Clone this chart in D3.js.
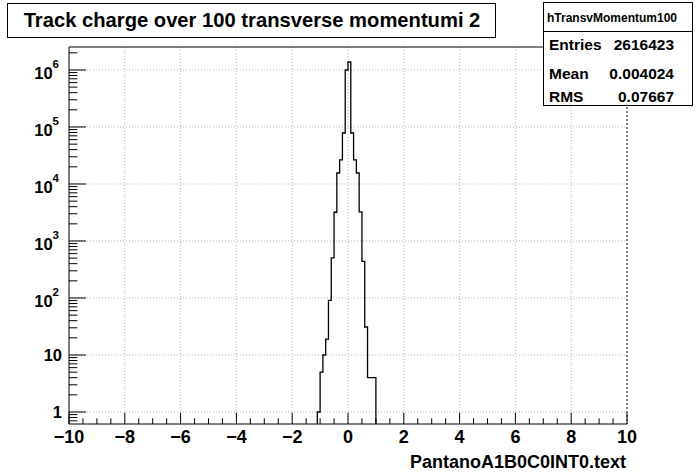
<!DOCTYPE html>
<html><head><meta charset="utf-8">
<script src="https://cdn.jsdelivr.net/npm/d3@7"></script>
<style>
html,body{margin:0;padding:0;background:#fff;}
svg{display:block;font-family:"Liberation Sans",Arial,Helvetica,sans-serif;font-weight:bold;}
</style></head>
<body><svg id="c" width="696" height="472"></svg>
<script>
// ---- data ----
const titleText = "Track charge over 100 transverse momentumi 2";
const xTitle = "PantanoA1B0C0INT0.text";
const statsName = "hTransvMomentum100";
const statsLabels = ["Entries", "Mean", "RMS"];
const statsValues = ["2616423", "0.004024", "0.07667"];
const binWidth = 0.1;
const binLo = [-1.1,-1.0,-0.9,-0.8,-0.7,-0.6,-0.5,-0.4,-0.3,-0.2,-0.1,0.0,0.1,0.2,0.3,0.4,0.5,0.6,0.7,0.8,0.9];
const counts = [1,5,10,19,91,504,3190,15600,26400,78500,1000000,1380000,78500,26400,15600,3230,440,31,4,4,4];
const xDomain = [-10, 10];
const yDomain = [0.616, 2.53e6];
const xMajor = [-10,-8,-6,-4,-2,0,2,4,6,8,10];
const xTickLabels = ["\u221210","\u22128","\u22126","\u22124","\u22122","0","2","4","6","8","10"];
const yMajor = [1,10,100,1000,10000,100000,1000000];
const yTickBase = ["1","10","10","10","10","10","10"];
const yTickExp = ["","","2","3","4","5","6"];

// ---- layout ----
const L = 69, R = 627, T = 47, B = 424;
const svg = d3.select("#c");
const x = d3.scaleLinear().domain(xDomain).range([L, R]);
const y = d3.scaleLog().domain(yDomain).range([B, T]);

// grid
const g = svg.append("g");
xMajor.filter(v => v > xDomain[0] && v < xDomain[1]).forEach(v => {
  g.append("line").attr("x1", x(v)).attr("x2", x(v)).attr("y1", T).attr("y2", B)
   .attr("stroke", "#b4b4b4").attr("stroke-width", 1).attr("stroke-dasharray", "1,2");
});
yMajor.forEach(v => {
  g.append("line").attr("x1", L).attr("x2", R).attr("y1", y(v)).attr("y2", y(v))
   .attr("stroke", "#b4b4b4").attr("stroke-width", 1).attr("stroke-dasharray", "1,2");
});

// histogram
const pts = [[binLo[0], yDomain[0]]];
binLo.forEach((lo, i) => { pts.push([lo, counts[i]]); pts.push([lo + binWidth, counts[i]]); });
pts.push([binLo[binLo.length-1] + binWidth, yDomain[0]]);
svg.append("path")
  .attr("d", d3.line().x(d => x(d[0])).y(d => y(d[1]))(pts))
  .attr("fill", "none").attr("stroke", "#000").attr("stroke-width", 1.3);

// frame
svg.append("line").attr("x1", L).attr("x2", L).attr("y1", T).attr("y2", B).attr("stroke", "#000");
svg.append("line").attr("x1", L).attr("x2", R).attr("y1", B).attr("y2", B).attr("stroke", "#000");
svg.append("line").attr("x1", L).attr("x2", R).attr("y1", T).attr("y2", T).attr("stroke", "#000");
svg.append("line").attr("x1", R).attr("x2", R).attr("y1", T).attr("y2", B)
  .attr("stroke", "#000").attr("stroke-dasharray", "2,2");

// x ticks
const xMinor = d3.range(xDomain[0], xDomain[1] + 0.001, 0.5);
xMinor.forEach(v => {
  const major = Math.abs(v / 2 - Math.round(v / 2)) < 1e-6;
  const len = major ? 11.3 : 5.7;
  svg.append("line").attr("x1", x(v)).attr("x2", x(v)).attr("y1", B).attr("y2", B - len)
    .attr("stroke", "#000");
});
xMajor.forEach((v, i) => {
  svg.append("text").attr("x", x(v)).attr("y", 443).attr("text-anchor", "middle")
    .attr("font-size", 18).text(xTickLabels[i]);
});
svg.append("text").attr("x", R - 1).attr("y", 468).attr("text-anchor", "end")
  .attr("font-size", 18).text(xTitle);

// y ticks
const yMinorVals = [];
for (let e = -1; e <= 6; e++) for (let k = 1; k <= 9; k++) {
  const v = k * Math.pow(10, e);
  if (v >= yDomain[0] && v <= yDomain[1]) yMinorVals.push({v, major: k === 1});
}
yMinorVals.forEach(d => {
  const len = d.major ? 17 : 8.4;
  svg.append("line").attr("x1", L).attr("x2", L + len).attr("y1", y(d.v)).attr("y2", y(d.v))
    .attr("stroke", "#000");
});
yMajor.forEach((v, i) => {
  if (yTickExp[i] === "") {
    svg.append("text").attr("x", 62).attr("y", y(v) + 6).attr("text-anchor", "end")
      .attr("font-size", 16.5).text(yTickBase[i]);
  } else {
    const t = svg.append("text").attr("x", 59).attr("y", y(v) + 9).attr("text-anchor", "end")
      .attr("font-size", 16.5);
    t.append("tspan").text(yTickBase[i]);
    t.append("tspan").attr("font-size", 11.5).attr("dy", -11).text(yTickExp[i]);
  }
});

// title box
svg.append("rect").attr("x", 7.5).attr("y", 3.5).attr("width", 488).attr("height", 34)
  .attr("fill", "#fff").attr("stroke", "#000");
svg.append("text").attr("x", 252).attr("y", 27).attr("text-anchor", "middle")
  .attr("font-size", 20.2).text(titleText);

// stats box
svg.append("rect").attr("x", 543.5).attr("y", 2.5).attr("width", 149).attr("height", 103)
  .attr("fill", "#fff").attr("stroke", "#000");
svg.append("line").attr("x1", 543.5).attr("x2", 692.5).attr("y1", 31.5).attr("y2", 31.5).attr("stroke", "#000");
svg.append("text").attr("x", 612).attr("y", 21.5).attr("text-anchor", "middle")
  .attr("font-size", 12).text(statsName);
const rowY = [50, 78.5, 101.5];
statsLabels.forEach((lab, i) => {
  svg.append("text").attr("x", 549).attr("y", rowY[i]).attr("font-size", 15.5).text(lab);
  svg.append("text").attr("x", 674).attr("y", rowY[i]).attr("text-anchor", "end")
    .attr("font-size", 15.5).text(statsValues[i]);
});
</script></body></html>
